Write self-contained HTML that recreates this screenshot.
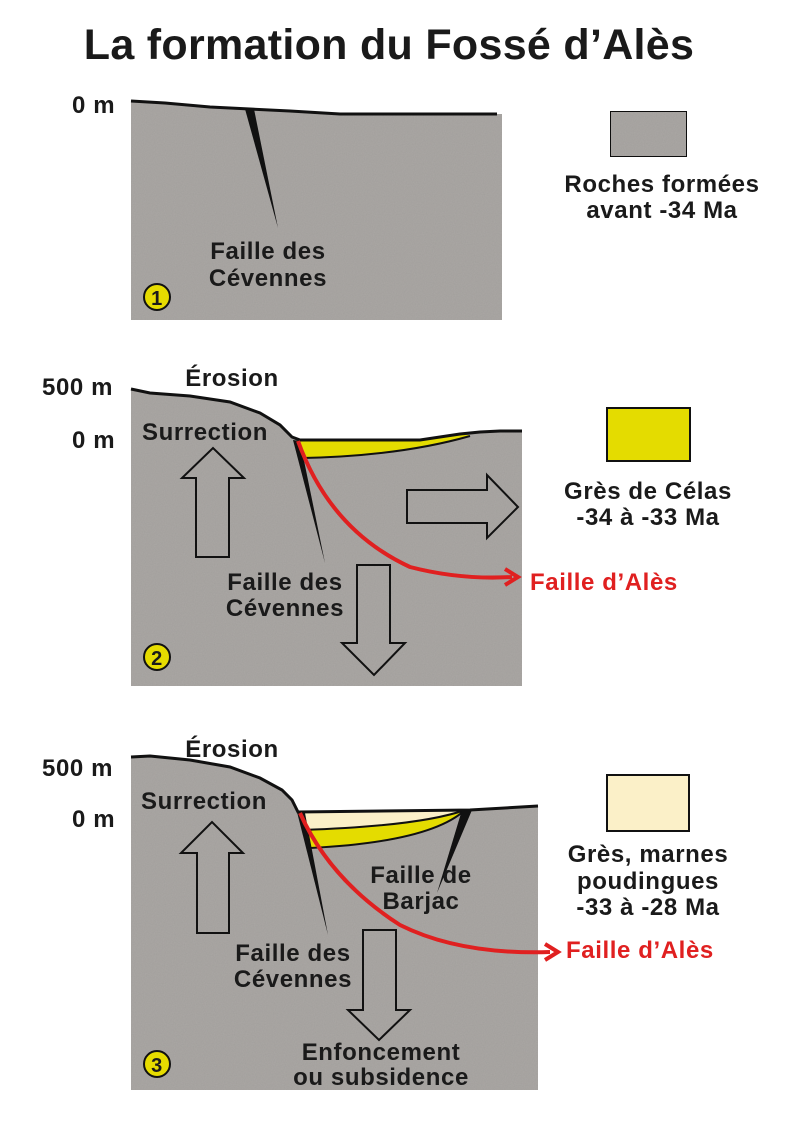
<!DOCTYPE html>
<html><head><meta charset="utf-8"><style>
html,body{margin:0;padding:0;background:#fff;}
svg{display:block;}
text{font-family:"Liberation Sans",sans-serif;font-weight:bold;fill:#1a1a1a;font-size:24px;letter-spacing:0.6px;}
</style></head><body>
<svg width="800" height="1143" viewBox="0 0 800 1143" xmlns="http://www.w3.org/2000/svg">
<defs>
<filter id="n" x="0" y="0" width="100%" height="100%">
<feTurbulence type="fractalNoise" baseFrequency="0.9" numOctaves="1" result="t"/>
<feColorMatrix in="t" type="matrix" values="0 0 0 0 0.5  0 0 0 0 0.5  0 0 0 0 0.5  0 0 0 0.25 0" result="c"/>
<feComposite in="c" in2="SourceGraphic" operator="in" result="d"/>
<feBlend in="SourceGraphic" in2="d" mode="multiply"/>
</filter>
</defs>
<text x="389" y="59" style="font-size:43px;letter-spacing:0.3px" text-anchor="middle">La formation du Fossé d’Alès</text>

<!-- Panel 1 -->
<path d="M131,101 L165,103 L210,107 L250,109 L290,111 L340,114 L502,114 L502,320 L131,320 Z" fill="#aba8a5" filter="url(#n)"/>
<path d="M131,101 L165,103 L210,107 L250,109 L290,111 L340,114 L497,114" fill="none" stroke="#111" stroke-width="3"/>
<path d="M245,109 L254,109 L278,228 Z" fill="#111"/>
<text x="72" y="113">0 m</text>
<text x="268" y="259" text-anchor="middle">Faille des</text>
<text x="268" y="286" text-anchor="middle">Cévennes</text>
<circle cx="157" cy="297" r="13" fill="#e6dc00" stroke="#111" stroke-width="2"/>
<text x="157" y="305" style="font-size:20px" text-anchor="middle">1</text>
<rect x="610" y="111" width="77" height="46" fill="#aba8a5" stroke="#111" stroke-width="2" filter="url(#n)"/>
<text x="662" y="192" text-anchor="middle">Roches formées</text>
<text x="662" y="218" text-anchor="middle">avant -34 Ma</text>

<!-- Panel 2 -->
<path d="M131,389 L150,393 L190,396 L230,402 L260,413 L280,425 L292,437 L300,440 L420,440 L460,434 L480,432 L500,431 L522,431 L522,686 L131,686 Z" fill="#aba8a5" filter="url(#n)"/>
<path d="M300,440 L420,440 L460,435 L470,435 Q420,455 305,458 Z" fill="#e4dc00"/>
<path d="M131,389 L150,393 L190,396 L230,402 L260,413 L280,425 L292,437 L300,440 L420,440 L460,434 L480,432 L500,431 L522,431" fill="none" stroke="#111" stroke-width="3"/>
<path d="M303,458 Q400,456 470,436" fill="none" stroke="#111" stroke-width="2"/>
<path d="M293,440 L300,441 L325,563 Z" fill="#111"/>
<path d="M298,441 Q330,530 410,567 Q460,580 512,577" fill="none" stroke="#e02020" stroke-width="4"/>
<path d="M505,569 L518,577 L505,585" fill="none" stroke="#e02020" stroke-width="4"/>
<path d="M196,557 L196,478 L182,478 L213,448 L244,478 L229,478 L229,557 Z" fill="none" stroke="#111" stroke-width="2"/>
<path d="M407,490 L487,490 L487,475 L518,507 L487,538 L487,523 L407,523 Z" fill="none" stroke="#111" stroke-width="2"/>
<path d="M357,565 L390,565 L390,643 L405,643 L374,675 L342,643 L357,643 Z" fill="none" stroke="#111" stroke-width="2"/>
<text x="42" y="395">500 m</text>
<text x="72" y="448">0 m</text>
<text x="232" y="386" text-anchor="middle">Érosion</text>
<text x="205" y="440" text-anchor="middle">Surrection</text>
<text x="285" y="590" text-anchor="middle">Faille des</text>
<text x="285" y="616" text-anchor="middle">Cévennes</text>
<text x="530" y="590" style="fill:#e02020">Faille d’Alès</text>
<circle cx="157" cy="657" r="13" fill="#e6dc00" stroke="#111" stroke-width="2"/>
<text x="157" y="665" style="font-size:20px" text-anchor="middle">2</text>
<rect x="607" y="408" width="83" height="53" fill="#e4dc00" stroke="#111" stroke-width="2"/>
<text x="648" y="499" text-anchor="middle">Grès de Célas</text>
<text x="648" y="525" text-anchor="middle">-34 à -33 Ma</text>

<!-- Panel 3 -->
<path d="M131,757 L150,756 L190,760 L230,767 L260,778 L282,790 L292,800 L298,812 L470,810 L538,806 L538,1090 L131,1090 Z" fill="#aba8a5" filter="url(#n)"/>
<path d="M300,812 L465,810 Q420,826 303,830 Z" fill="#fbf0c8"/>
<path d="M303,830 Q420,826 465,810 Q430,842 310,848 Z" fill="#e4dc00"/>
<path d="M303,830 Q420,826 465,810 M310,848 Q430,842 465,810" fill="none" stroke="#111" stroke-width="2"/>
<path d="M131,757 L150,756 L190,760 L230,767 L260,778 L282,790 L292,800 L298,812 L470,810 L538,806" fill="none" stroke="#111" stroke-width="3"/>
<path d="M462,810 L472,810 L437,893 Z" fill="#111"/>
<path d="M297,812 L305,813 L328,935 Z" fill="#111"/>
<path d="M300,813 Q330,880 400,925 Q460,955 550,952" fill="none" stroke="#e02020" stroke-width="4"/>
<path d="M545,944 L558,952 L545,960" fill="none" stroke="#e02020" stroke-width="4"/>
<path d="M197,933 L197,853 L181,853 L212,822 L243,853 L229,853 L229,933 Z" fill="none" stroke="#111" stroke-width="2"/>
<path d="M363,930 L396,930 L396,1010 L410,1010 L379,1040 L348,1010 L363,1010 Z" fill="none" stroke="#111" stroke-width="2"/>
<text x="42" y="776">500 m</text>
<text x="72" y="827">0 m</text>
<text x="232" y="757" text-anchor="middle">Érosion</text>
<text x="204" y="809" text-anchor="middle">Surrection</text>
<text x="421" y="883" text-anchor="middle">Faille de</text>
<text x="421" y="909" text-anchor="middle">Barjac</text>
<text x="293" y="961" text-anchor="middle">Faille des</text>
<text x="293" y="987" text-anchor="middle">Cévennes</text>
<text x="381" y="1060" text-anchor="middle">Enfoncement</text>
<text x="381" y="1085" text-anchor="middle">ou subsidence</text>
<text x="566" y="958" style="fill:#e02020">Faille d’Alès</text>
<circle cx="157" cy="1064" r="13" fill="#e6dc00" stroke="#111" stroke-width="2"/>
<text x="157" y="1072" style="font-size:20px" text-anchor="middle">3</text>
<rect x="607" y="775" width="82" height="56" fill="#fbf0c8" stroke="#111" stroke-width="2"/>
<text x="648" y="862" text-anchor="middle">Grès, marnes</text>
<text x="648" y="889" text-anchor="middle">poudingues</text>
<text x="648" y="915" text-anchor="middle">-33 à -28 Ma</text>
</svg>
</body></html>
